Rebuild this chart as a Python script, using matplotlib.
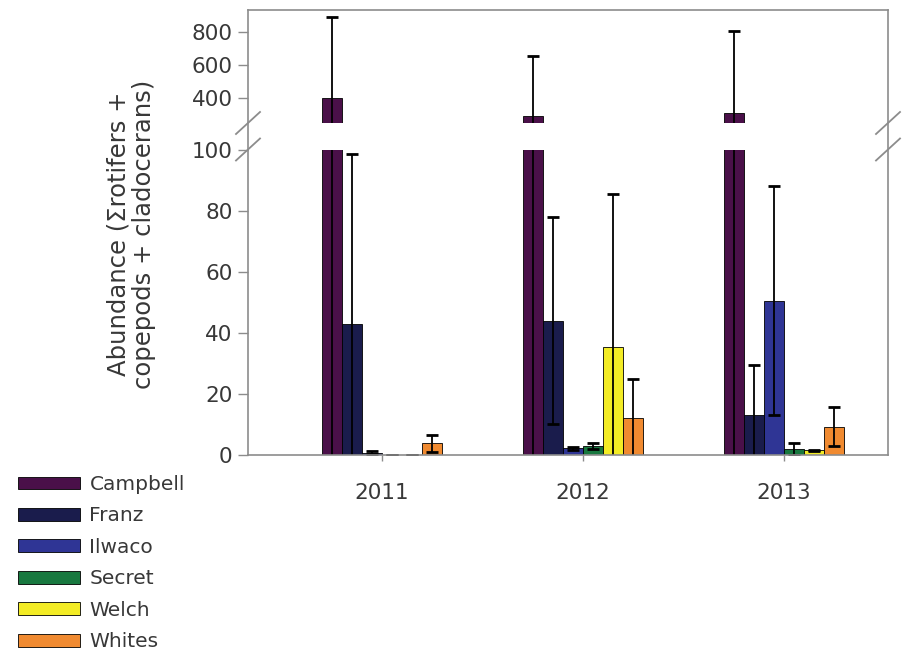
import numpy as np
import matplotlib
matplotlib.use("Agg")
import matplotlib.pyplot as plt
from matplotlib.lines import Line2D

plt.rcParams['font.family'] = ['DejaVu Sans']

years = ['2011', '2012', '2013']
sites = ['Campbell', 'Franz', 'Ilwaco', 'Secret', 'Welch', 'Whites']
colors = ['#4a1049', '#1a1c4c', '#2f3595', '#18783f', '#f3ec25', '#f08a30']

# mean abundance and error for each site, per year
campbell = [400, 290, 310]
campbell_err = [490, 365, 500]
franz = [43, 44, 13]
franz_err = [55.5, 34, 16.5]
ilwaco = [0.8, 2.2, 50.5]
ilwaco_err = [0.4, 0.5, 37.5]
secret = [0, 3, 2]
secret_err = [0, 1, 2]
welch = [0, 35.5, 1.5]
welch_err = [0, 50, 0.3]
whites = [3.8, 12, 9.3]
whites_err = [2.7, 13, 6.5]

means = [campbell, franz, ilwaco, secret, welch, whites]
errs = [campbell_err, franz_err, ilwaco_err, secret_err, welch_err, whites_err]

W, H = 904, 651
fig = plt.figure(figsize=(W / 100, H / 100), dpi=100)


def fx(px):
    return px / W


def fy(py):
    return 1 - py / H


left, right = fx(248), fx(888)
# outer frame drawn as plain lines so it runs through the break gap
grey = '#8c8c8c'
for xs, ys in [([248, 248], [10, 455]), ([888, 888], [10, 455]),
               ([248, 888], [10, 10]), ([248, 888], [455, 455])]:
    fig.add_artist(Line2D([fx(v) for v in xs], [fy(v) for v in ys],
                          color=grey, lw=1.2, zorder=5))

ax_top = fig.add_axes([left, fy(123), right - left, fy(10) - fy(123)])
ax_low = fig.add_axes([left, fy(455), right - left, fy(149.5) - fy(455)])

x = np.arange(len(years))
width = 0.1
for ax in (ax_top, ax_low):
    for i, (site, m, e, c) in enumerate(zip(sites, means, errs, colors)):
        pos = x + (i - 2.5) * width
        ax.bar(pos, m, width, color=c, edgecolor='black', linewidth=0.6,
               label=site)
        ax.errorbar(pos, m, yerr=e, fmt='none', ecolor='black', elinewidth=1.3,
                    capsize=4.5, capthick=2)
    ax.set_xlim(-0.667, 2.517)
    ax.patch.set_visible(False)
    for s in ax.spines.values():
        s.set_visible(False)
    ax.tick_params(axis='y', direction='out', length=7, width=1, color=grey,
                   labelsize=15.5, labelcolor='#383838', pad=4)

ax_top.set_ylim(250, 935)
ax_top.set_yticks([400, 600, 800])
ax_top.set_xticks([])

ax_low.set_ylim(0, 100)
ax_low.set_yticks([0, 20, 40, 60, 80, 100])
ax_low.set_xticks(x)
ax_low.set_xticklabels(years)
ax_low.tick_params(axis='x', direction='out', length=4, width=1, color=grey,
                   labelsize=15.5, labelcolor='#383838', pad=16)

fig.text(fx(131), fy(234), 'Abundance (\u03a3rotifers +\ncopepods + cladocerans)',
         rotation=90, ha='center', va='center', fontsize=17.5, color='#383838',
         linespacing=1.1)

# break marks on both sides
for xp in (248, 888):
    for yp in (123, 149.5):
        fig.add_artist(Line2D([fx(xp - 12), fx(xp + 12)], [fy(yp + 11), fy(yp - 11)],
                              color=grey, lw=1.3))

handles, labels = ax_low.get_legend_handles_labels()
fig.legend(handles, labels, loc='upper left', bbox_to_anchor=(fx(18), fy(475)),
           frameon=False, fontsize=14.5, handlelength=3.1, handleheight=0.6,
           handletextpad=0.45, labelspacing=0.62, borderpad=0, borderaxespad=0,
           labelcolor='#383838')

fig.savefig('out.png', dpi=100)
